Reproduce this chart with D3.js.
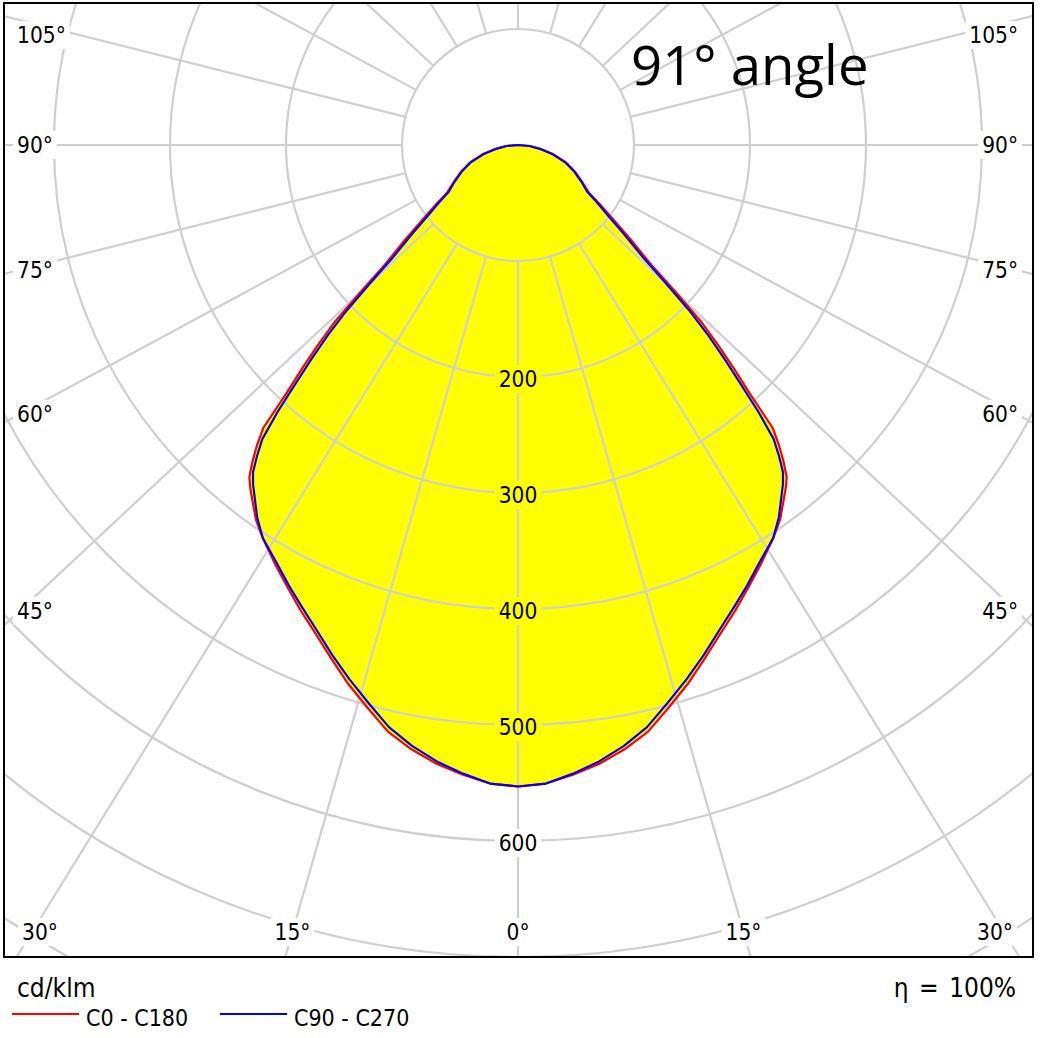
<!DOCTYPE html>
<html><head><meta charset="utf-8">
<script src="https://cdn.jsdelivr.net/npm/d3@7"></script>
<style>body{margin:0;background:#fff}</style>
</head><body>
<svg id="chart" width="1040" height="1038"></svg>
<script>
// ---- data (cd/klm vs gamma angle, symmetric planes) ----
const gammaDeg = [0,2.5,5,7.5,10,12.5,15,17.5,20,22.5,25,27.5,30,33,35,38,39,40,41,42,43,44,45,46,47,48,50,52,54,56,60,65,70,75,80,85,90];
const c0c180   = [553,551,545,538,529,518,502,487,471,456,443,430,418,404,394,375,368,356,343,328,293,268,244,220,185,155,127,104,88,74,64,54,44,32,20,10,0];
const c90c270  = [553,551,544,536,526,514,498,483,468,453,440,428,416,404,392,371,363,350,336,310,281,256,232,205,172,146,119,98,84,72,63,53,43,31,19,10,0];
const ringValues = [100,200,300,400,500,600,700,800,900];
const ringLabelValues = [200,300,400,500,600];
const spokeAngles = [0,15,30,45,60,75,90,105,120,135,150,165,180];
const angleLabelValues = [0,15,30,45,60,75,90,105];
const seriesNames = ["C0 - C180","C90 - C270"];
const seriesColors = ["#ff0000","#0000ff"];
const titleText = "91° angle";
const unitText = "cd/klm";
const effText = "η = 100%";

// ---- layout ----
const W = 1040, H = 1038;
const frame = {x:4, y:3, w:1029, h:954};
const cx = 518, cy = 145;
const K = 0.935; // vertical compression of the spoke directions in the reference
const FONT = "'DejaVu Sans Condensed','DejaVu Sans',sans-serif";
const svg = d3.select("#chart");
const rScale = d3.scaleLinear().domain([0,100]).range([0,116]);
const toRad = d => d*Math.PI/180;

const defs = svg.append("defs");
defs.append("clipPath").attr("id","frameClip").append("rect")
  .attr("x",frame.x).attr("y",frame.y).attr("width",frame.w).attr("height",frame.h);

const plot = svg.append("g").attr("clip-path","url(#frameClip)");

// ---- curves (fill) ----
function fullCurve(vals){
  const pts = [];
  for(let i=gammaDeg.length-1;i>=0;i--) pts.push({a:Math.PI - toRad(gammaDeg[i]), v:vals[i]});
  for(let i=1;i<gammaDeg.length;i++) pts.push({a:Math.PI + toRad(gammaDeg[i]), v:vals[i]});
  return pts;
}
const radial = d3.lineRadial().angle(d=>d.a).radius(d=>rScale(d.v)).curve(d3.curveLinear);
const series = [c0c180, c90c270];
const fillG = plot.append("g").attr("transform",`translate(${cx},${cy})`);
series.forEach(s=>{
  fillG.append("path").attr("d", radial(fullCurve(s)) + "Z").attr("fill","#ffff00").attr("stroke","none");
});

// ---- grid with label gaps (mask) ----
const mask = defs.append("mask").attr("id","labelMask").attr("maskUnits","userSpaceOnUse")
  .attr("x",0).attr("y",0).attr("width",W).attr("height",H);
mask.append("rect").attr("x",0).attr("y",0).attr("width",W).attr("height",H).attr("fill","#fff");

const grid = plot.append("g").attr("mask","url(#labelMask)")
  .attr("stroke","#cfcfcf").attr("stroke-width",2.2).attr("fill","none");
ringValues.forEach(v=>{
  grid.append("circle").attr("cx",cx).attr("cy",cy).attr("r",rScale(v));
});
function spokeDir(g, side){
  const sx = Math.sin(toRad(g))*side, sy = Math.cos(toRad(g))*K;
  const n = Math.hypot(sx,sy);
  return [sx/n, sy/n];
}
spokeAngles.forEach(g=>{
  const sides = (g===0||g===180)?[1]:[-1,1];
  sides.forEach(side=>{
    const [dx,dy] = spokeDir(g, side);
    const r0 = rScale(100), r1 = 1600;
    grid.append("line").attr("x1",cx+dx*r0).attr("y1",cy+dy*r0)
      .attr("x2",cx+dx*r1).attr("y2",cy+dy*r1);
  });
});

// ---- curves (lines) ----
const lineG = plot.append("g").attr("transform",`translate(${cx},${cy})`);
series.forEach((s,i)=>{
  lineG.append("path").attr("d", radial(fullCurve(s)) + "Z").attr("fill","none")
    .attr("stroke",seriesColors[i]).attr("stroke-width",2.2).attr("stroke-linejoin","round");
});

// ---- labels ----
const labelG = svg.append("g").attr("font-family",FONT).attr("fill","#000");
const gapBoxes = [];
function addLabel(x,y,text,anchor,size){
  const t = labelG.append("text").attr("x",x).attr("y",y).attr("text-anchor",anchor)
    .attr("dominant-baseline","central").attr("font-size",size).text(text);
  gapBoxes.push(t.node().getBBox());
  return t;
}
ringLabelValues.forEach(v=>{
  addLabel(cx, cy + rScale(v) + 2, String(v), "middle", 22.5);
});
const labTop = 35, labBottom = 932, labLeft = 17, labRight = 1018;
angleLabelValues.forEach(g=>{
  const tanK = Math.tan(toRad(g))/K;
  const dxBottom = (labBottom - cy)*tanK;
  if(g < 90 && cx - dxBottom >= labLeft){
    [-1,1].forEach(side=>{
      if(g===0 && side===1) return;
      let x = cx + side*dxBottom;
      x = Math.max(40, Math.min(995, x));
      addLabel(x, labBottom, g+"°", "middle", 22.5);
    });
  } else {
    const ySide = cy + (cx - 20)*Math.cos(toRad(g))*K/Math.sin(toRad(g));
    const y = Math.max(labTop, Math.min(labBottom, ySide));
    addLabel(labLeft, y, g+"°", "start", 22.5);
    addLabel(labRight, y, g+"°", "end", 22.5);
  }
});
gapBoxes.forEach(b=>{
  mask.append("rect").attr("x",b.x-4).attr("y",b.y-1).attr("width",b.width+8).attr("height",b.height+2).attr("fill","#000");
});

// ---- frame ----
svg.append("rect").attr("x",frame.x).attr("y",frame.y).attr("width",frame.w).attr("height",frame.h)
  .attr("fill","none").attr("stroke","#000").attr("stroke-width",2);

// ---- title ----
svg.append("text").attr("x",631).attr("y",85).attr("font-family","'Open Sans',sans-serif")
  .attr("font-size",54.5).attr("fill","#000").text(titleText);

// ---- legend ----
const leg = svg.append("g").attr("font-family",FONT).attr("fill","#000");
leg.append("text").attr("x",17).attr("y",997).attr("font-size",26).text(unitText);
leg.append("text").attr("x",1016).attr("y",997).attr("font-size",26).attr("text-anchor","end")
  .attr("word-spacing",3).text(effText);
const legX = [12, 220];
seriesNames.forEach((n,i)=>{
  leg.append("line").attr("x1",legX[i]).attr("x2",legX[i]+67).attr("y1",1014).attr("y2",1014)
    .attr("stroke",seriesColors[i]).attr("stroke-width",2);
  leg.append("text").attr("x",legX[i]+74).attr("y",1026).attr("font-size",23).text(n);
});
</script>
</body></html>
